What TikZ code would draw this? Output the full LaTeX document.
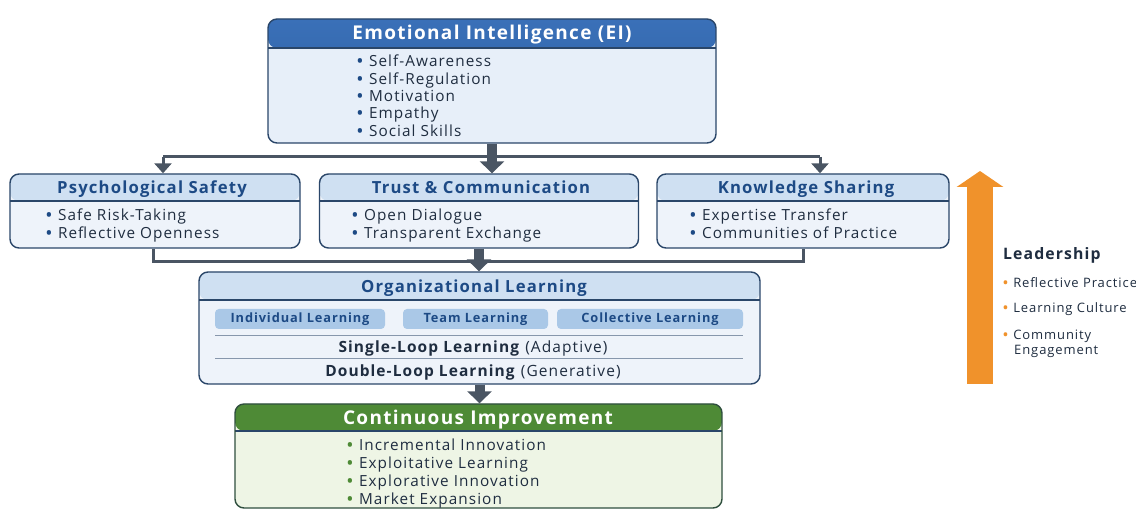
\documentclass[tikz,border=0pt]{standalone}
\usepackage{fontspec}
\setmainfont{Open Sans}[LetterSpace=7]
\usetikzlibrary{arrows.meta}

\definecolor{border}{HTML}{2A4669}
\definecolor{eitop}{HTML}{3A70B8}
\definecolor{eibot}{HTML}{2D5E9F}
\definecolor{eibody}{HTML}{E7EFF9}
\definecolor{hdlight}{HTML}{CFE0F2}
\definecolor{bodyblue}{HTML}{EEF3FA}
\definecolor{titleblue}{HTML}{1D4A85}
\definecolor{ink}{HTML}{1F2D40}
\definecolor{pill}{HTML}{AAC8E7}
\definecolor{rule}{HTML}{8797AC}
\definecolor{conn}{HTML}{4A5563}
\definecolor{greenhd}{HTML}{4E8A36}
\definecolor{greenbody}{HTML}{EEF5E5}
\definecolor{greenborder}{HTML}{2F4F3E}
\definecolor{greendot}{HTML}{4E8A36}
\definecolor{lead}{HTML}{F0922B}

\newcommand{\dotin}[1]{\textcolor{#1}{\textbf{•}}}

\tikzset{
  card/.style={draw=border, line width=1.4pt, rounded corners=9pt, inner sep=0pt},
  header/.style 2 args={path picture={
      \path[#1] (path picture bounding box.north west) rectangle
        ([yshift=-#2]path picture bounding box.north east);
      \draw[border, line width=1.1pt] ([yshift=-#2]path picture bounding box.north west) --
        ([yshift=-#2]path picture bounding box.north east);}},
  txt/.style={inner sep=0pt, text=ink},
  eititle/.style={inner sep=0pt, anchor=base, text=white, font=\bfseries\fontsize{19}{22}\selectfont},
  sectitle/.style={inner sep=0pt, anchor=base, text=titleblue, font=\bfseries\fontsize{16.7}{20}\selectfont},
  item/.style={txt, anchor=base west, font=\fontsize{15.3}{18}\selectfont},
  leaditem/.style={txt, anchor=base west, font=\fontsize{13}{15}\selectfont},
  pillbox/.style={fill=pill, rounded corners=4pt, minimum height=20pt, inner sep=0pt,
      text=titleblue, font=\bfseries\fontsize{12.8}{15}\selectfont},
  link/.style={draw=conn, line width=3pt},
  linkarrow/.style={link, -{Triangle[width=17pt,length=10pt]}},
  bigarrow/.style={draw=conn, line width=10pt, -{Triangle[width=24pt,length=12pt]}},
}

\begin{document}
\begin{tikzpicture}[x=1pt,y=-1pt]
\useasboundingbox[fill=white] (0,0) rectangle (1136,510);

% ---- Emotional Intelligence
\node[card, fill=eibody, header={top color=eitop, bottom color=eibot}{29pt},
      minimum width=448pt, minimum height=124pt] (ei) at (492,81) {};
\node[eititle] (ei-t) at (492,40) {Emotional Intelligence (EI)};
\foreach \t [count=\i] in {Self-Awareness, Self-Regulation, Motivation, Empathy, Social Skills}
  \node[item] (ei-\i) at (357,{67+17.3*(\i-1)}) {\dotin{titleblue} \t};

% ---- second row
\node[card, fill=bodyblue, header={fill=hdlight}{27pt},
      minimum width=290pt, minimum height=74pt] (ps) at (155,211) {};
\node[sectitle] (ps-t) at (152,194) {Psychological Safety};
\node[item] (ps-1) at (46,221) {\dotin{titleblue} Safe Risk-Taking};
\node[item] (ps-2) at (46,239) {\dotin{titleblue} Reflective Openness};

\node[card, fill=bodyblue, header={fill=hdlight}{27pt},
      minimum width=319pt, minimum height=74pt] (tc) at (479,211) {};
\node[sectitle] (tc-t) at (481,194) {Trust \& Communication};
\node[item] (tc-1) at (352,221) {\dotin{titleblue} Open Dialogue};
\node[item] (tc-2) at (352,239) {\dotin{titleblue} Transparent Exchange};

\node[card, fill=bodyblue, header={fill=hdlight}{27pt},
      minimum width=292pt, minimum height=74pt] (ks) at (803,211) {};
\node[sectitle] (ks-t) at (806,194) {Knowledge Sharing};
\node[item] (ks-1) at (690,221) {\dotin{titleblue} Expertise Transfer};
\node[item] (ks-2) at (690,239) {\dotin{titleblue} Communities of Practice};

% ---- Organizational Learning
\node[card, fill=bodyblue, header={fill=hdlight}{28pt},
      minimum width=561pt, minimum height=112pt] (ol) at (479.5,328) {};
\node[sectitle] (ol-t) at (474,292.5) {Organizational Learning};
\node[pillbox, minimum width=170pt] (p1) at (300,319) {Individual Learning};
\node[pillbox, minimum width=145pt] (p2) at (475.5,319) {Team Learning};
\node[pillbox, minimum width=186pt] (p3) at (650,319) {Collective Learning};
\draw[rule, line width=0.8pt] (215,335) -- (743,335);
\draw[rule, line width=0.8pt] (215,358) -- (743,358);
\node[txt, anchor=base, font=\fontsize{15.5}{18}\selectfont] (sl) at (473,352.5)
  {\textbf{Single-Loop Learning} (Adaptive)};
\node[txt, anchor=base, font=\fontsize{15.5}{18}\selectfont] (dl) at (473,376.5)
  {\textbf{Double-Loop Learning} (Generative)};

% ---- Continuous Improvement
\node[card, draw=greenborder, fill=greenbody, header={fill=greenhd}{27pt},
      minimum width=487pt, minimum height=104pt] (ci) at (478.5,456) {};
\node[eititle] (ci-t) at (478,424.5) {Continuous Improvement};
\foreach \t [count=\i] in {Incremental Innovation, Exploitative Learning, Explorative Innovation, Market Expansion}
  \node[item] (ci-\i) at (347,{451+18*(\i-1)}) {\dotin{greendot} \t};

% ---- connectors
\coordinate (psin) at (163,157);
\coordinate (ksin) at (820,157);
\coordinate (psout) at (153,262);
\coordinate (ksout) at (803,262);
\draw[link] (psin) -- (ksin);
\draw[linkarrow] (psin) -- (psin |- ps.north);
\draw[linkarrow] (ksin) -- (ksin |- ks.north);
\draw[bigarrow] (ei.south) -- (ei.south |- tc.north);
\draw[link] (psout |- ps.south) -- (psout) -- (ksout) -- (ksout |- ks.south);
\draw[bigarrow] (tc.south) -- (tc.south |- ol.north);
\draw[bigarrow] (ol.south) -- (ol.south |- ci.north);

% ---- Leadership
\coordinate (leadbase) at (980,384);
\coordinate (leadtip) at (980,171);
\draw[lead, line width=26pt, -{Triangle[width=46pt,length=16pt]}] (leadbase) -- (leadtip);
\node[txt, anchor=base west, font=\bfseries\fontsize{15.8}{18}\selectfont] (lead-t) at (1003,259.5) {Leadership};
\node[leaditem] (lead-1) at (1003,287.5) {\dotin{lead} Reflective Practice};
\node[leaditem] (lead-2) at (1003,312.5) {\dotin{lead} Learning Culture};
\node[leaditem] (lead-3) at (1003,339.5) {\dotin{lead} Community};
\node[leaditem] (lead-4) at (1014,355) {Engagement};
\end{tikzpicture}
\end{document}
